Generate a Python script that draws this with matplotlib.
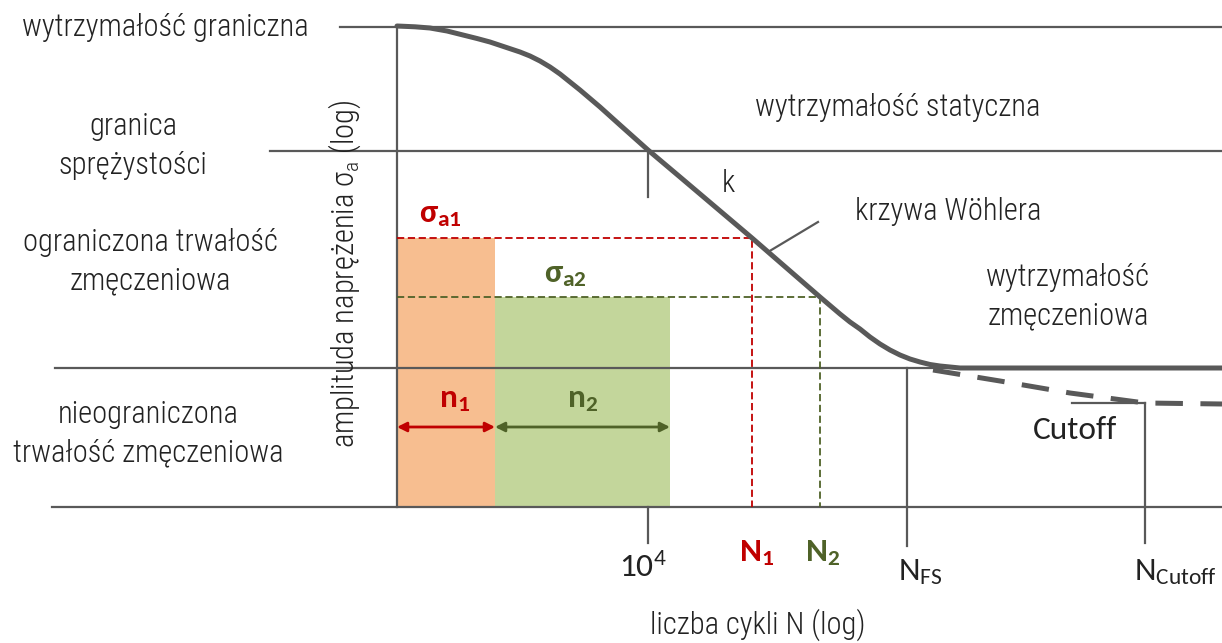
import matplotlib.pyplot as plt
from matplotlib import font_manager

# condensed sans for the labels, Carlito for the symbols
names = {f.name for f in font_manager.fontManager.ttflist}
narrow = next(n for n in ['Roboto Condensed', 'Archivo Narrow', 'Roboto'] if n in names)
plt.rcParams['font.family'] = [narrow, 'DejaVu Sans']
sym_font = ['Carlito', 'DejaVu Sans']

gray = '#595959'
red = '#C00000'
green = '#4F6228'

# diagram coordinates (x to the right, y downward, in picture pixels)
levels_y = [27, 151, 368, 507]
levels_x0 = [340, 270, 55, 52]
x_right = 1222
axis_x = 397

curve_x = [397, 415, 430, 447, 463, 477, 490, 505, 520, 530, 540, 550, 560, 570, 580,
           600, 620, 648, 680, 752, 820, 840, 850, 860, 870, 880, 890, 900, 910, 920,
           930, 940, 960, 1222]
curve_y = [26, 26.8, 28, 31, 35, 38.5, 42, 47, 52, 56, 61, 67, 74, 82, 90,
           107, 125, 150, 177, 238, 297, 314, 322, 329, 337, 344, 350, 355, 359, 362,
           364.5, 366, 368, 368]

cutoff_x = [933, 1000, 1070, 1145, 1222]
cutoff_y = [370, 381, 393, 403, 404]

n1_x = [397, 495]
n2_x = [495, 670]
sigma1_y = 238
sigma2_y = 297
N1_x = 752
N2_x = 820
tick_1e4 = 648
nfs_x = 907
ncut_x = 1145

fig = plt.figure(figsize=(12.22, 6.43), dpi=100)
ax = fig.add_axes([0, 0, 1, 1])
ax.set_xlim(0, 1222)
ax.set_ylim(643, 0)
ax.axis('off')

# fill rectangles
ax.fill_between(n1_x, sigma1_y, levels_y[3], color='#F7BE90', lw=0, zorder=1)
ax.fill_between(n2_x, sigma2_y, levels_y[3], color='#C3D69B', lw=0, zorder=1)

# horizontal levels and vertical axis
for y, x0 in zip(levels_y, levels_x0):
    ax.plot([x0, x_right], [y, y], color=gray, lw=1.6, zorder=2)
ax.plot([axis_x, axis_x], [levels_y[0], levels_y[3]], color=gray, lw=1.6, zorder=2)

# dashed sigma lines
ax.plot([axis_x, N1_x, N1_x], [sigma1_y, sigma1_y, levels_y[3]], color=red, lw=1.3,
        ls=(0, (4, 2)), zorder=3)
ax.plot([axis_x, N2_x, N2_x], [sigma2_y, sigma2_y, levels_y[3]], color=green, lw=1.3,
        ls=(0, (4, 2)), zorder=3)

# Woehler curve
ax.plot(curve_x, curve_y, color=gray, lw=3.6, solid_capstyle='round',
        solid_joinstyle='round', zorder=4)
ax.plot(cutoff_x, cutoff_y, color=gray, lw=3.6, ls=(0, (5.5, 3.5)), zorder=4)

# ticks and markers
ax.plot([tick_1e4, tick_1e4], [levels_y[1], 197], color=gray, lw=1.6)
ax.plot([tick_1e4, tick_1e4], [levels_y[3], 543], color=gray, lw=1.6)
ax.plot([nfs_x, nfs_x], [levels_y[2], 546], color=gray, lw=1.6)
ax.plot([ncut_x, ncut_x], [403, 543], color=gray, lw=1.6)
ax.plot([1072, ncut_x], [403, 403], color=gray, lw=1.6)
ax.plot([768, 818], [252, 222], color=gray, lw=1.6)

# arrows n1, n2
ax.annotate('', xy=(n1_x[0], 427), xytext=(n1_x[1], 427),
            arrowprops=dict(arrowstyle='<|-|>', color=red, lw=2, mutation_scale=14,
                            shrinkA=0, shrinkB=0), zorder=5)
ax.annotate('', xy=(n2_x[0], 427), xytext=(n2_x[1], 427),
            arrowprops=dict(arrowstyle='<|-|>', color=green, lw=2, mutation_scale=14,
                            shrinkA=0, shrinkB=0), zorder=5)

fs = 22
tk = dict(color='#222222', fontsize=fs, fontweight='light', ha='center', va='center',
          linespacing=1.4)
ax.text(165, 27, 'wytrzymałość graniczna', **tk)
ax.text(133, 146, 'granica\nsprężystości', **tk)
ax.text(150, 262, 'ograniczona trwałość\nzmęczeniowa', **tk)
ax.text(148, 434, 'nieograniczona\ntrwałość zmęczeniowa', **tk)
ax.text(345, 274, 'amplituda naprężenia $\\mathregular{σ_a}$ (log)', rotation=90, **tk)
ax.text(898, 107, 'wytrzymałość statyczna', **tk)
ax.text(728, 183, 'k', **tk)
ax.text(948, 212, 'krzywa Wöhlera', **tk)
ax.text(1068, 297, 'wytrzymałość\nzmęczeniowa', **tk)
ax.text(758, 625, 'liczba cykli N (log)', **tk)

sym = dict(family=sym_font, fontsize=24, ha='center', va='center')
ax.text(1075, 430, 'Cutoff', color='#222222', **sym)
ax.text(643, 566, '$\\mathregular{10^4}$', color='#222222', **sym)
ax.text(920, 572, '$\\mathregular{N_{FS}}$', color='#222222', **sym)
ax.text(1175, 572, '$\\mathregular{N_{Cutoff}}$', color='#222222', **sym)
ax.text(757, 553, '$\\mathregular{N_1}$', color=red, fontweight='bold', **sym)
ax.text(823, 553, '$\\mathregular{N_2}$', color=green, fontweight='bold', **sym)
ax.text(455, 400, '$\\mathregular{n_1}$', color=red, fontweight='bold', **sym)
ax.text(583, 400, '$\\mathregular{n_2}$', color=green, fontweight='bold', **sym)
ax.text(440, 215, '$\\mathregular{σ_{a1}}$', color=red, fontweight='bold', **sym)
ax.text(565, 275, '$\\mathregular{σ_{a2}}$', color=green, fontweight='bold', **sym)

fig.savefig('out.png', dpi=100)
